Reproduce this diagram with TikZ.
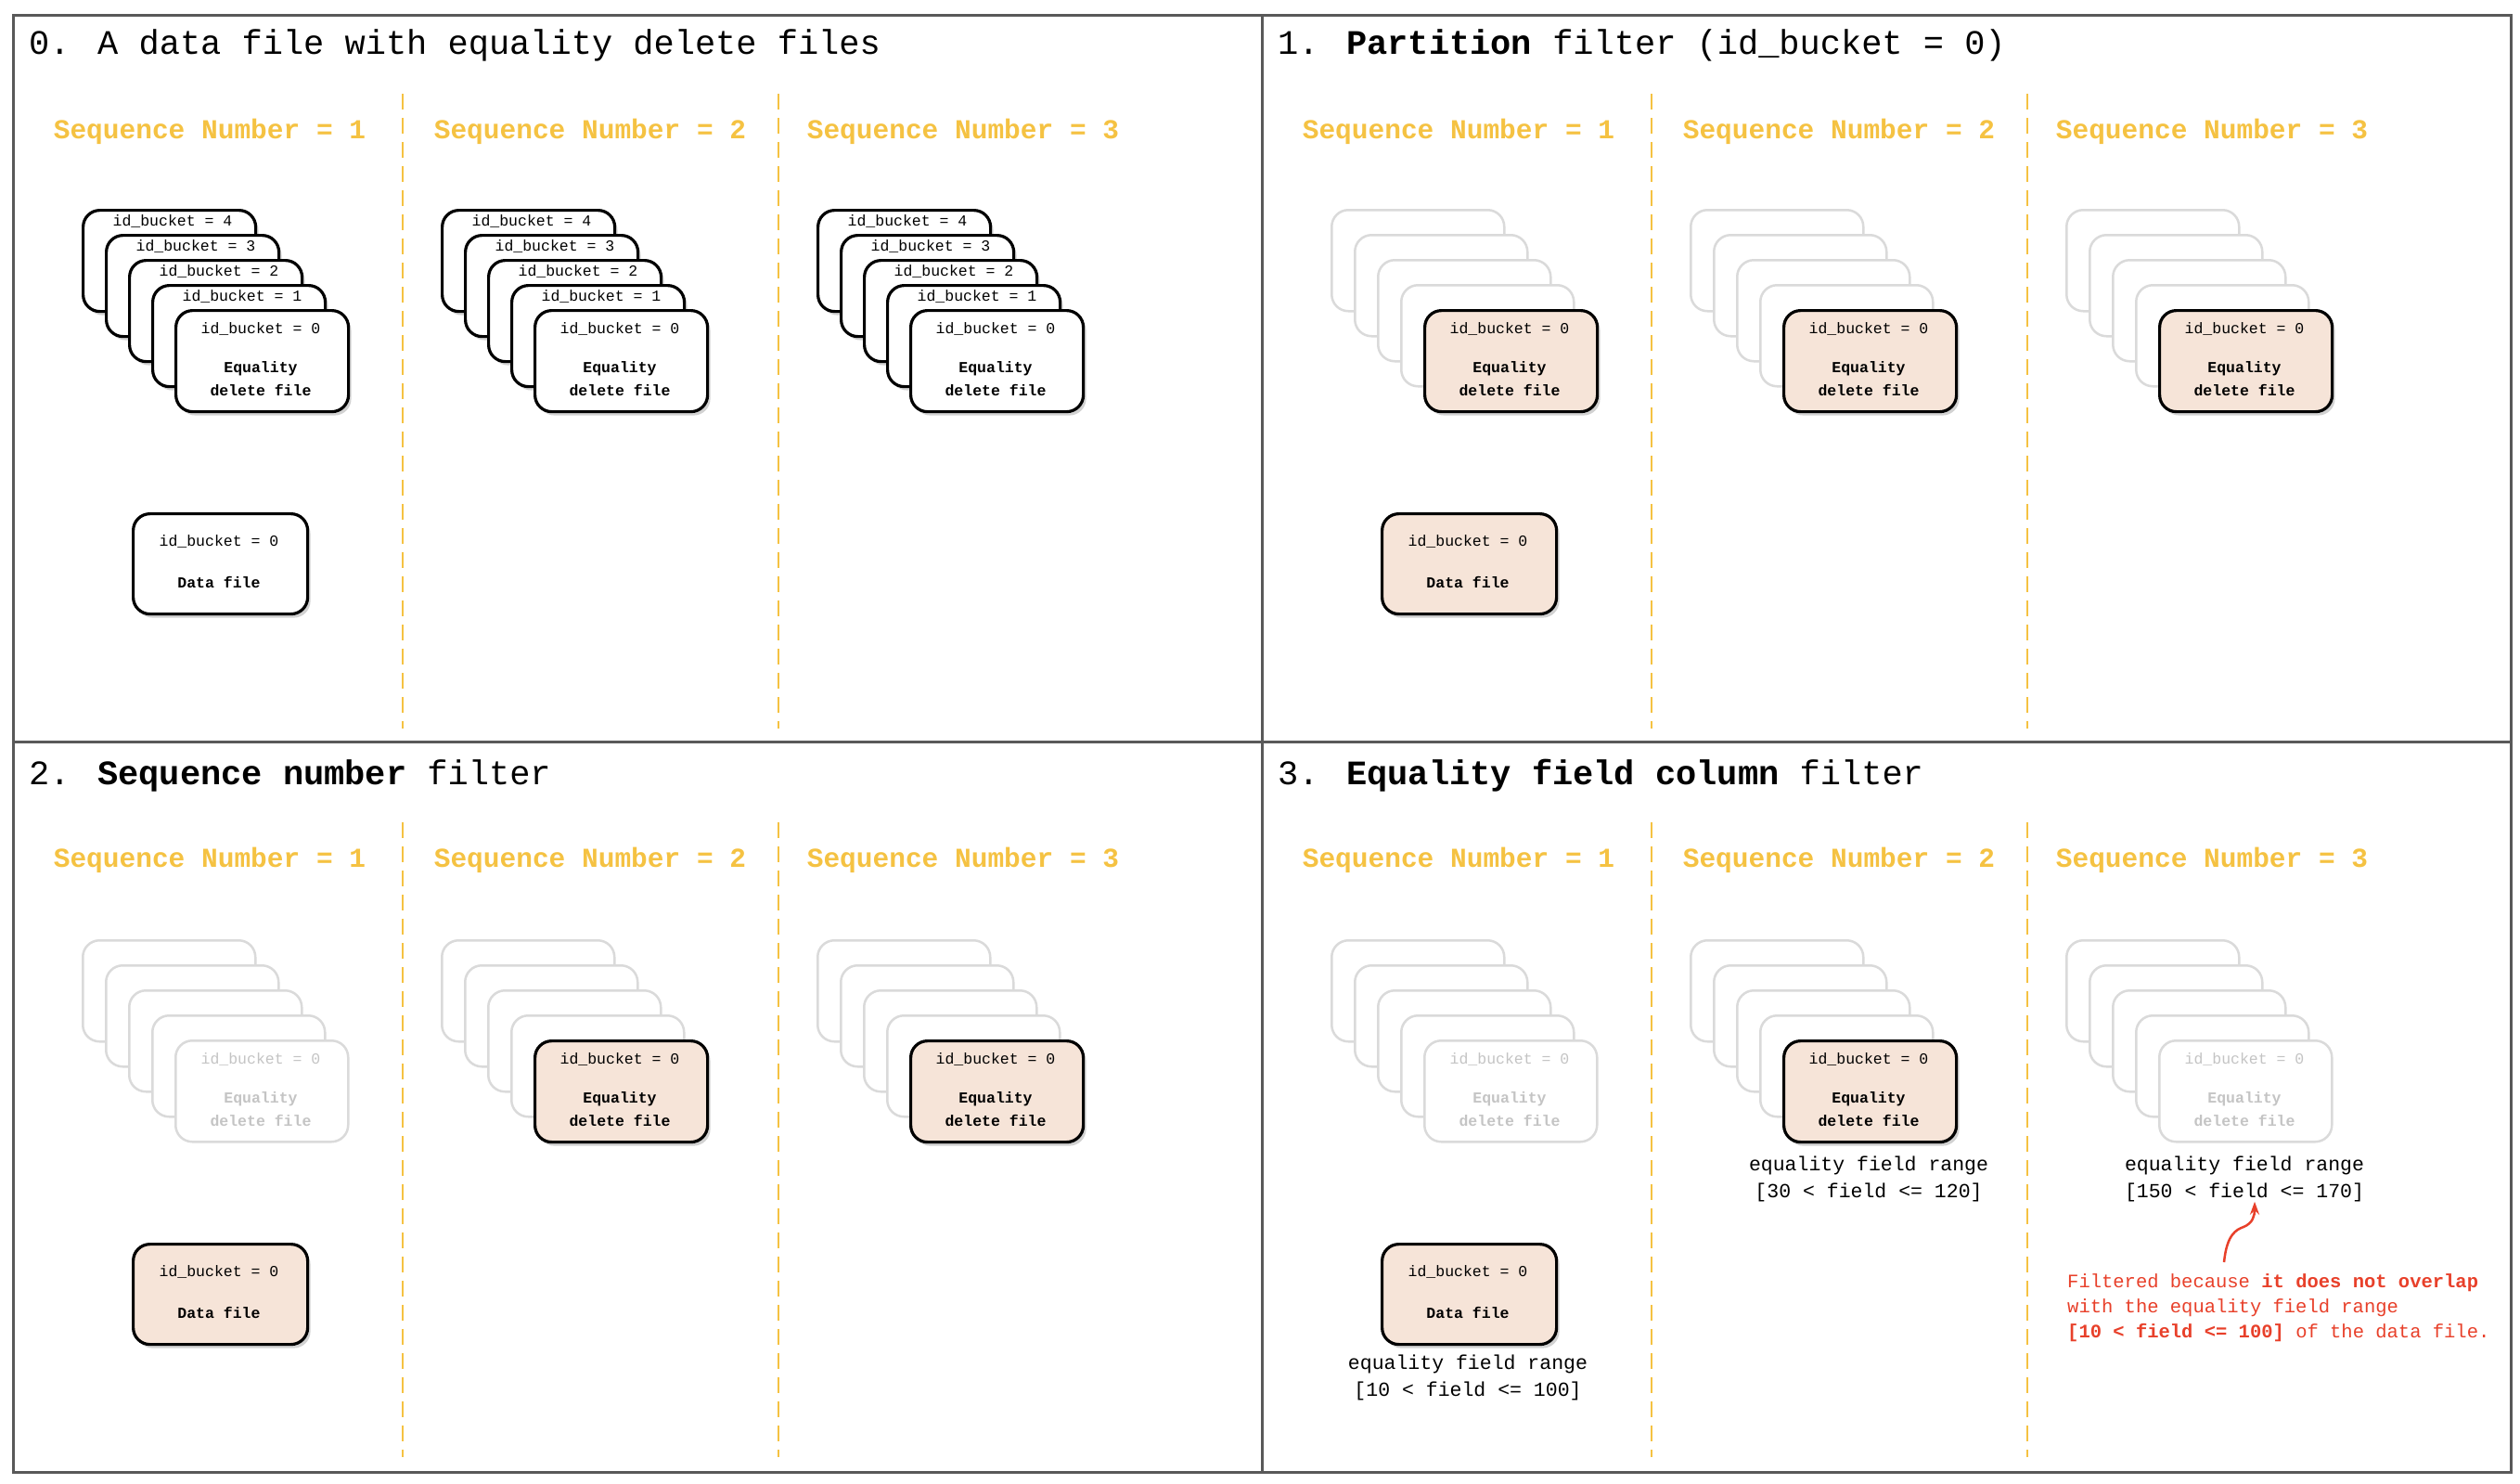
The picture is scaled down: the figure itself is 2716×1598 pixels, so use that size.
\documentclass[tikz,border=0pt]{standalone}
\usepackage{fontspec}
\setmainfont{Liberation Mono}
\usetikzlibrary{shadows,arrows.meta}
\definecolor{seqy}{HTML}{F5C242}
\definecolor{peach}{HTML}{F6E4D8}
\definecolor{faintc}{HTML}{DADADA}
\definecolor{fainttxt}{HTML}{C4C4C4}
\definecolor{redc}{HTML}{E8402A}
\tikzset{
  cardbase/.style={rectangle,rounded corners=18pt,minimum width=186pt,minimum height=109pt,anchor=north west,line width=3.2pt,inner sep=0pt},
  cardblack/.style={cardbase,draw=black,fill=white,drop shadow={shadow xshift=3pt,shadow yshift=-4pt,opacity=0.35}},
  cardpeach/.style={cardbase,draw=black,fill=peach,drop shadow={shadow xshift=3pt,shadow yshift=-4pt,opacity=0.35}},
  cardfaint/.style={cardbase,draw=faintc,fill=white,line width=2.5pt},
  small/.style={font=\fontsize{16.5}{18}\selectfont,inner sep=0pt},
  smallb/.style={font=\fontsize{16.5}{18}\selectfont\bfseries,inner sep=0pt},
  seqlab/.style={font=\fontsize{29.5}{32}\selectfont\bfseries,text=seqy,inner sep=0pt},
  ttl/.style={font=\fontsize{37}{40}\selectfont,anchor=west,inner sep=0pt},
  divline/.style={seqy,line width=2.8pt,dash pattern=on 17pt off 9pt},
  rng/.style={font=\fontsize{21.5}{29}\selectfont,align=center,inner sep=0pt},
  panelb/.style={draw=black!65,line width=3pt}
}
% #1 prefix, #2 L0, #3 T0, #4 back style, #5 show back text (1/0), #6 front style, #7 front text colour
\newcommand\cstack[7]{%
  \foreach \i in {4,3,2,1}{%
    \node[#4] (#1b\i) at ({#2-\i*25},{#3-\i*27}) {};
    \ifnum#5=1
      \node[small] (#1bt\i) at ({#2-\i*25+98},{#3-\i*27+13}) {id\_bucket = \i};
    \fi
  }
  \node[#6] (#1f) at (#2,#3) {};
  \node[small,text=#7] (#1fa) at ({#2+93},{#3+21}) {id\_bucket = 0};
  \node[smallb,text=#7] (#1fb) at ({#2+93},{#3+64}) {Equality};
  \node[smallb,text=#7] (#1fc) at ({#2+93},{#3+87}) {delete file};
}
\newcommand\dfile[4]{% prefix, L, T, style
  \node[#4,minimum width=188pt,minimum height=108pt] (#1d) at (#2,#3) {};
  \node[small] (#1da) at ({#2+94},{#3+31}) {id\_bucket = 0};
  \node[smallb] (#1db) at ({#2+94},{#3+75}) {Data file};
}
\newcommand\panelframe[3]{% prefix, px, py
  \draw[divline] ({#2+420},{#3+85}) -- ({#2+420},{#3+769});
  \draw[divline] ({#2+825},{#3+85}) -- ({#2+825},{#3+769});
  \node[seqlab] (#1s1) at ({#2+212},{#3+126}) {Sequence Number = 1};
  \node[seqlab] (#1s2) at ({#2+622},{#3+126}) {Sequence Number = 2};
  \node[seqlab] (#1s3) at ({#2+1024},{#3+126}) {Sequence Number = 3};
}
\begin{document}
\begin{tikzpicture}[x=1pt,y=-1pt]
\useasboundingbox (0,0) rectangle (2716,1598);
\fill[white] (0,0) rectangle (2716,1598);
% panel 0
\panelframe{p0}{14}{16}
\node[ttl] (t0) at (31,49) {0. A data file with equality delete files};
\cstack{p0a}{188}{333}{cardblack}{1}{cardblack}{black}
\cstack{p0b}{575}{333}{cardblack}{1}{cardblack}{black}
\cstack{p0c}{980}{333}{cardblack}{1}{cardblack}{black}
\dfile{p0}{142}{552}{cardblack}
% panel 1
\panelframe{p1}{1360}{16}
\node[ttl] (t1) at (1377,49) {1. \textbf{Partition} filter (id\_bucket = 0)};
\cstack{p1a}{1534}{333}{cardfaint}{0}{cardpeach}{black}
\cstack{p1b}{1921}{333}{cardfaint}{0}{cardpeach}{black}
\cstack{p1c}{2326}{333}{cardfaint}{0}{cardpeach}{black}
\dfile{p1}{1488}{552}{cardpeach}
% panel 2
\panelframe{p2}{14}{801}
\node[ttl] (t2) at (31,836) {2. \textbf{Sequence number} filter};
\cstack{p2a}{188}{1120}{cardfaint}{0}{cardfaint}{fainttxt}
\cstack{p2b}{575}{1120}{cardfaint}{0}{cardpeach}{black}
\cstack{p2c}{980}{1120}{cardfaint}{0}{cardpeach}{black}
\dfile{p2}{142}{1339}{cardpeach}
% panel 3
\panelframe{p3}{1360}{801}
\node[ttl] (t3) at (1377,836) {3. \textbf{Equality field column} filter};
\cstack{p3a}{1534}{1120}{cardfaint}{0}{cardfaint}{fainttxt}
\cstack{p3b}{1921}{1120}{cardfaint}{0}{cardpeach}{black}
\cstack{p3c}{2326}{1120}{cardfaint}{0}{cardfaint}{fainttxt}
\dfile{p3}{1488}{1339}{cardpeach}
\node[rng] (r2) at (2014,1270) {equality field range\\{}[30 < field <= 120]};
\node[rng] (r3) at (2419,1270) {equality field range\\{}[150 < field <= 170]};
\node[rng] (rd) at (1582,1484) {equality field range\\{}[10 < field <= 100]};
\node[font=\fontsize{20.5}{27}\selectfont,text=redc,align=left,anchor=north west,inner sep=0pt] (note) at (2228,1372)
 {Filtered because \textbf{it does not overlap}\\with the equality field range\\\textbf{[10 < field <= 100]} of the data file.};
\coordinate (ns) at (2397,1360);
\draw[redc,line width=2.5pt,-{Stealth[length=14pt,width=10pt]}] (ns) .. controls (2400,1330) and (2410,1325) .. (2418,1322) .. controls (2428,1318) and (2430,1310) .. (r3.south -| 2430,0);
% panel borders
\draw[panelb] (14,16) rectangle (2706,1586);
\draw[panelb] (1360,16) -- (1360,1586);
\draw[panelb] (14,799) -- (2706,799);
\end{tikzpicture}
\end{document}
